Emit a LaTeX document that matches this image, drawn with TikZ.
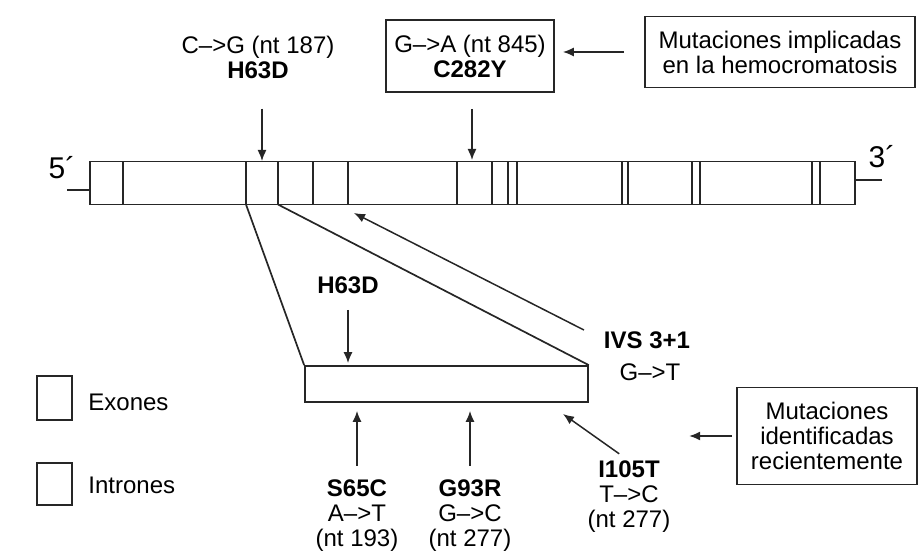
\documentclass[tikz,border=0pt]{standalone}
\usepackage{fontspec}
\setmainfont{Liberation Sans}
\usetikzlibrary{arrows.meta}
\begin{document}
\begin{tikzpicture}[x=0.5pt, y=-0.5pt,
  ln/.style={draw=black!85, line width=0.85pt},
  ar/.style={draw=black!85, line width=0.75pt, -{Latex[length=5.5pt,width=4.5pt]}},
  lb/.style={font=\fontsize{12}{12.5}\selectfont, inner sep=0pt, align=center},
  bx/.style={draw=black!85, line width=0.85pt, inner sep=0pt, align=center,
    font=\fontsize{12}{12.5}\selectfont}]
\useasboundingbox (0,0) rectangle (921,556);
% gene with its exon boundaries
\node[bx, minimum width=382.5pt, minimum height=21.5pt] (gene) at (472.5,183) {};
\foreach \x in {123,246,278,313,348,457,492,508,517,622,628,692,700,812,820}
  \draw[ln] (\x,161.5) -- (\x,204.5);
\coordinate (t5) at (67,190); \coordinate (t3) at (882,180);
\draw[ln] (t5) -- (t5 -| gene.west);
\draw[ln] (t3) -- (t3 -| gene.east);
\node[lb, font=\fontsize{15}{15}\selectfont] (p5) at (62,168) {5´};
\node[lb, font=\fontsize{15}{15}\selectfont] (p3) at (882,157) {3´};
% enlarged exon
\node[bx, minimum width=141.5pt, minimum height=18pt] (exon) at (446.5,384) {};
\coordinate (e2) at (246,204.5); \coordinate (e3) at (278,204.5);
\draw[ln] (e2) -- (exon.north west);
\draw[ln] (e3) -- (exon.north east);
% mutations above the gene
\node[lb] (mH) at (258,57) {C\textendash{}>G (nt 187)\\\textbf{H63D}};
\coordinate (aH) at (262,161);
\draw[ar, shorten <=15pt] (mH.south -| aH) -- (aH);
\node[bx, minimum width=84pt, minimum height=36pt] (mC) at (470,56) {G\textendash{}>A (nt 845)\\\textbf{C282Y}};
\coordinate (aC) at (472,160);
\draw[ar, shorten <=8pt] (mC.south -| aC) -- (aC);
\node[bx, minimum width=135pt, minimum height=35.5pt] (impl) at (780,52) {Mutaciones implicadas\\en la hemocromatosis};
\draw[ar, shorten <=10pt, shorten >=4pt] (impl.west) -- (impl.west -| mC.east);
% mutations on the exon
\node[lb] (mH2) at (348,285) {\textbf{H63D}};
\draw[ar, shorten <=8pt, shorten >=1pt] (mH2.south) -- (mH2.south |- exon.north);
\node[lb] (mS) at (357,516) {\textbf{S65C}\\A\textendash{}>T\\(nt 193)};
\draw[ar, shorten <=7pt, shorten >=4pt] (mS.north) -- (mS.north |- exon.south);
\node[lb] (mG) at (470,516) {\textbf{G93R}\\G\textendash{}>C\\(nt 277)};
\draw[ar, shorten <=7pt, shorten >=4pt] (mG.north) -- (mG.north |- exon.south);
\node[lb] (mI) at (629,497) {\textbf{I105T}\\T\textendash{}>C\\(nt 277)};
\coordinate (aI) at (563,414);
\draw[ar, shorten <=6pt] (mI.north) -- (aI);
\node[lb] (mV) at (647,340) {\textbf{IVS 3+1}};
\node[lb] (mV2) at (650,372) {G\textendash{}>T};
\coordinate (aV) at (354,213);
\draw[ar, shorten <=11pt] (mV.west) -- (aV);
\node[bx, minimum width=90pt, minimum height=48.5pt] (nuev) at (827,436) {Mutaciones\\identificadas\\recientemente};
\draw[ar, shorten <=2pt] (nuev.west) -- ++(-47,0);
% legend
\node[bx, minimum width=17.5pt, minimum height=22pt] (kE) at (54.5,398) {};
\node[lb, anchor=west] (tE) at (88,402) {Exones};
\node[bx, minimum width=17.5pt, minimum height=21pt] (kI) at (54.5,484) {};
\node[lb, anchor=west] (tI) at (88,485) {Intrones};
\end{tikzpicture}
\end{document}
